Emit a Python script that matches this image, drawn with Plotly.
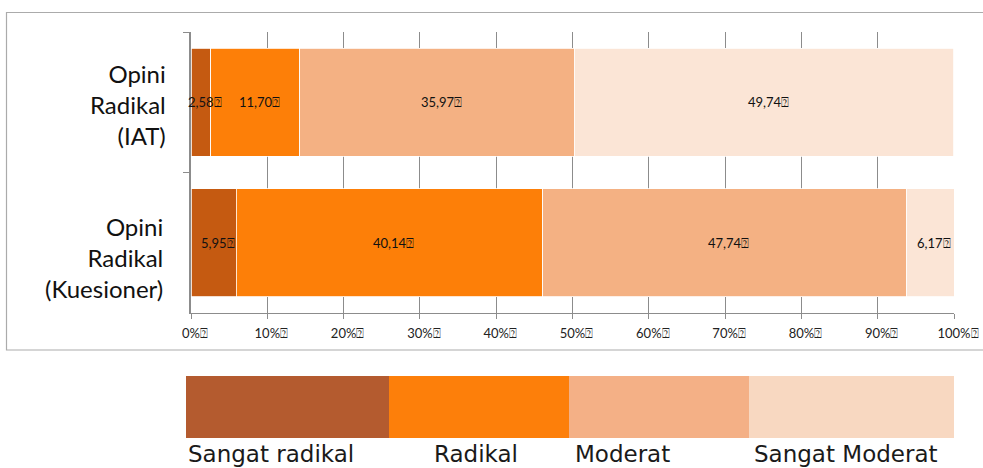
import plotly.graph_objects as go

# Survey results: share of respondents per opinion class
categories = ["IAT", "Kuesioner"]
category_labels = ["Opini<br>Radikal<br>(IAT)", "Opini<br>Radikal<br>(Kuesioner)"]
series_names = ["Sangat radikal", "Radikal", "Moderat", "Sangat Moderat"]
values = {
    "Sangat radikal": [2.58, 5.95],
    "Radikal": [11.70, 40.14],
    "Moderat": [35.97, 47.74],
    "Sangat Moderat": [49.74, 6.17],
}
tick_values = [0, 10, 20, 30, 40, 50, 60, 70, 80, 90, 100]
tick_labels = [f"{v}%\u2370" for v in tick_values]

bar_colors = ["#C55A11", "#FD7F08", "#F4B183", "#FBE5D6"]
swatch_colors = ["#B45B2F", "#FD7F0A", "#F4B086", "#F8D8C1"]

W, H = 983, 468
L, R, T, B = 191, 29, 32, 155
PW, PH = W - L - R, H - T - B


def px_x(x):
    return (x - L) / PW


def px_y(y):
    return (H - B - y) / PH


def fmt(v):
    return f"{v:.2f}".replace(".", ",") + "\u2370"


fig = go.Figure()
annotations = []
cumulative = [0.0 for _ in categories]
for name, color in zip(series_names, bar_colors):
    vals = values[name]
    fig.add_trace(go.Bar(
        name=name,
        y=categories,
        x=vals,
        orientation="h",
        marker=dict(color=color, line=dict(color="white", width=0.8)),
        showlegend=False,
        hoverinfo="skip",
    ))
    # value label centred on each segment
    for j, (cat, v) in enumerate(zip(categories, vals)):
        annotations.append(dict(
            x=cumulative[j] + v / 2, xref="x", y=cat, yref="y",
            text=fmt(v), showarrow=False, xshift=4,
            xanchor="center", yanchor="middle",
            font=dict(family="Lato, sans-serif", size=13, color="#111111"),
        ))
        cumulative[j] += v

# category labels on the left
for cat, lab, shift, xr in zip(categories, category_labels, [-2, -15], [168, 165]):
    annotations.append(dict(
        x=px_x(xr), xref="paper", xanchor="right",
        y=cat, yref="y", yanchor="middle", yshift=shift,
        text=lab, align="right", showarrow=False,
        font=dict(family="Lato, sans-serif", size=24, color="#111111"),
    ))

# legend block below the chart
swatch_edges = [186, 389, 569, 749, 954]
label_lefts = [186, 432, 573, 752]
shapes = [dict(
    type="rect", xref="paper", yref="paper", layer="below",
    x0=px_x(6.5), x1=px_x(1000), y0=px_y(350), y1=px_y(12.5),
    line=dict(color="#ABABAB", width=1.2), fillcolor="rgba(0,0,0,0)",
)]
for i, name in enumerate(series_names):
    shapes.append(dict(
        type="rect", xref="paper", yref="paper",
        x0=px_x(swatch_edges[i]), x1=px_x(swatch_edges[i + 1]),
        y0=px_y(438), y1=px_y(376),
        line=dict(width=0), fillcolor=swatch_colors[i],
    ))
    annotations.append(dict(
        x=px_x(label_lefts[i]), xref="paper", xanchor="left",
        y=px_y(439), yref="paper", yanchor="top",
        text=name, showarrow=False,
        font=dict(family="DejaVu Sans, sans-serif", size=23, color="#1a1a1a"),
    ))

fig.update_layout(
    width=W, height=H,
    margin=dict(l=L, r=R, t=T, b=B, pad=0, autoexpand=False),
    barmode="stack",
    bargap=0.23,
    plot_bgcolor="white",
    paper_bgcolor="white",
    shapes=shapes,
    annotations=annotations,
    xaxis=dict(
        range=[0, 100],
        tickvals=tick_values, ticktext=tick_labels,
        ticks="outside", ticklen=5, tickcolor="#8C8C8C",
        ticklabelshift=4, ticklabelstandoff=3,
        showgrid=True, gridcolor="#8C8C8C", gridwidth=1,
        showline=True, linecolor="#8C8C8C", linewidth=1,
        zeroline=False, automargin=False,
        tickfont=dict(family="Lato, sans-serif", size=13, color="#222222"),
        fixedrange=True,
    ),
    yaxis=dict(
        categoryorder="array", categoryarray=categories,
        autorange="reversed",
        tickson="boundaries", ticks="outside", ticklen=6, tickcolor="#8C8C8C",
        showticklabels=False,
        showline=True, linecolor="#8C8C8C", linewidth=1.5,
        showgrid=False, zeroline=False, automargin=False,
        fixedrange=True,
    ),
)

fig.write_html("out.html", config={"displayModeBar": False})
